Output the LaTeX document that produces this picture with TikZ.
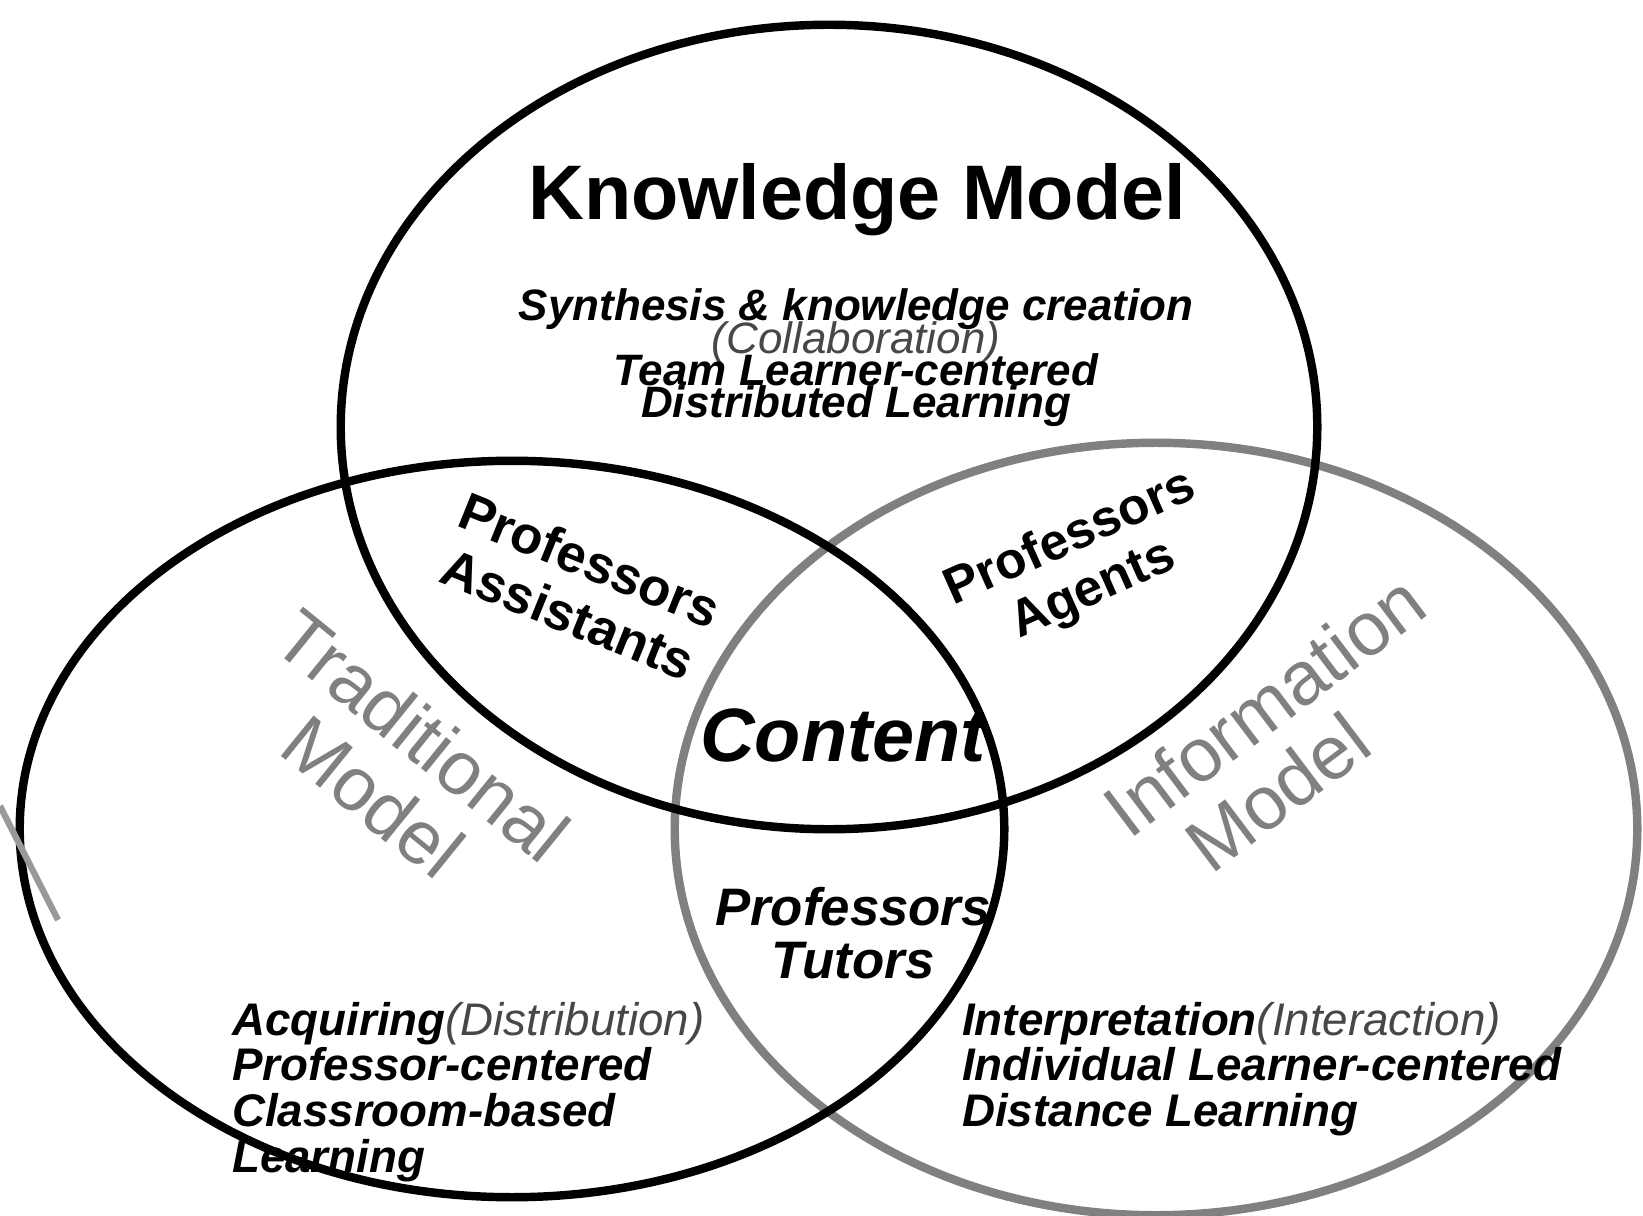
\documentclass[tikz,border=0pt]{standalone}
\usepackage{fontspec}
\setmainfont{Liberation Sans}
\usepackage{xcolor}
\usetikzlibrary{shapes,shapes.geometric,positioning}

\newcommand{\lighttext}[1]{{\mdseries\itshape\color{black!72}#1}}

\begin{document}
\begin{tikzpicture}[
		x = 0.01cm, % one unit per scan pixel
		y = -0.01cm, % y runs downwards as in the scan
		line width = 2.4pt, % line style
		inner sep = 0pt
	]
	
	\tikzstyle{venn}=[
	ellipse,
	draw = black,
	line width = 2.4pt,
	inner sep = 0pt
	]
	\tikzstyle{grayring}=[venn, draw = black!50]
	\tikzstyle{title}=[font = \fontsize{22}{24}\selectfont\bfseries]
	\tikzstyle{kbody}=[align = center,
	font = {\lineskiplimit=-\maxdimen\fontsize{12.5}{9.2}\selectfont\bfseries\itshape}]
	\tikzstyle{pair}=[align = center, font = \fontsize{15}{16.5}\selectfont\bfseries]
	\tikzstyle{core}=[font = \fontsize{21.5}{24}\selectfont\bfseries\itshape]
	\tikzstyle{modelname}=[align = center, text = black!50, font = \fontsize{21.5}{22.5}\selectfont]
	\tikzstyle{side}=[align = left, anchor = west, font = \fontsize{13}{13}\selectfont\bfseries\itshape]
	
	\useasboundingbox (0,0) rectangle (1643,1216);
	
	% the three models
	\node[grayring, minimum width = 9.62cm, minimum height = 7.72cm] (info) at (1156,829) {};
	\node[venn, minimum width = 9.84cm, minimum height = 7.36cm] (trad) at (512,829) {};
	\node[venn, minimum width = 9.76cm, minimum height = 8.04cm] (know) at (829,427) {};
	
	\draw[black!40, line width = 1.8pt] (0,806) -- (58,920);
	
	\node[title, anchor = base] (kmodel) at (857,220) {Knowledge Model};
	\node[kbody] (ktext) at (856,358) {Synthesis \& knowledge creation\\\lighttext{(Collaboration)}\\Team Learner-centered\\Distributed Learning};
	
	% overlaps
	\node[pair, rotate = -22] (assist) at (579,587) {Professors\\Assistants};
	\node[pair, rotate = 24, font = \fontsize{14.6}{16}\selectfont\bfseries] (agent) at (1082,565) {Professors\\Agents};
	\node[core] (content) at (843,735) {Content};
	\node[pair, font = \fontsize{15}{15}\selectfont\bfseries\itshape] (tutor) at (853,933) {Professors\\Tutors};
	
	\node[modelname, rotate = -39] (tmodel) at (398,766) {Traditional\\Model};
	\node[modelname, rotate = 37] (imodel) at (1264,705) {Information};
	\node[modelname, rotate = 37] (imodel2) at (1277,792) {Model};
	
	\node[side] (tlist) at (228,1092) {Acquiring\lighttext{(Distribution)}\\Professor-centered\\Classroom-based\\Learning};
	\node[side] (ilist) at (958,1069) {Interpretation\lighttext{(Interaction)}\\Individual Learner-centered\\Distance Learning};
\end{tikzpicture}
\end{document}
